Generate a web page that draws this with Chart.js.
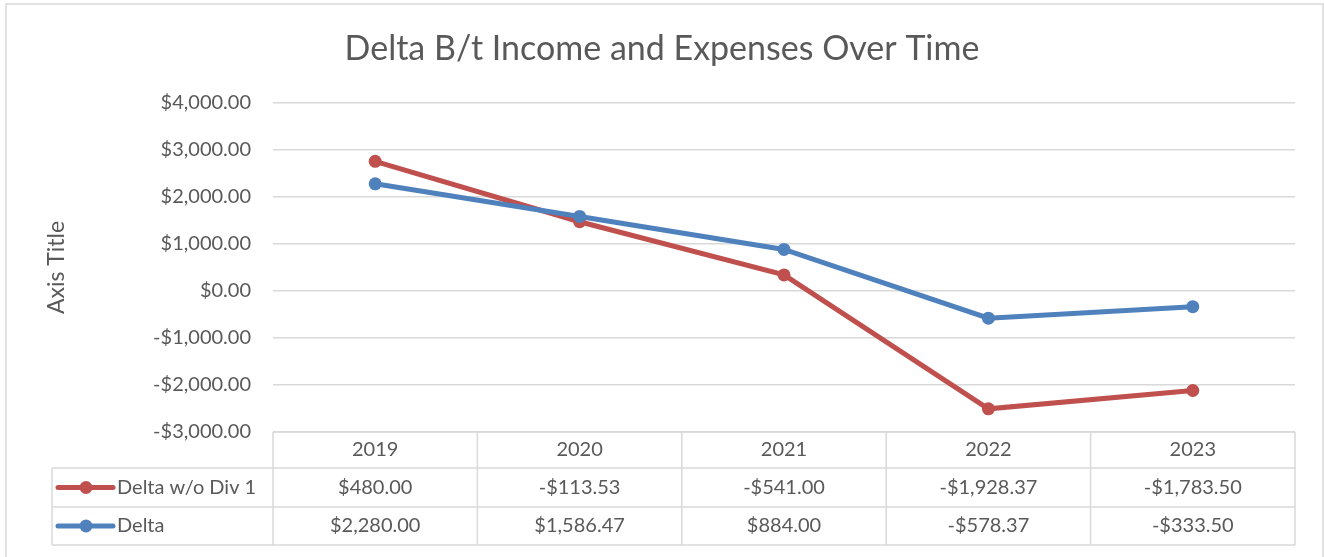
<!DOCTYPE html>
<html>
<head>
<meta charset="utf-8">
<script src="https://cdn.jsdelivr.net/npm/chart.js@4.4.1/dist/chart.umd.min.js"></script>
<style>
  html, body { margin: 0; padding: 0; background: #fff; }
  #wrap { width: 1324px; height: 557px; }
</style>
</head>
<body>
<div id="wrap"><canvas id="chart" width="1324" height="557"></canvas></div>
<script>
const years = ["2019", "2020", "2021", "2022", "2023"];
const deltaWithoutDiv1 = [480, -113.53, -541, -1928.37, -1783.5];
const delta = [2280, 1586.47, 884, -578.37, -333.5];
const yMin = -3000;
const yMax = 4000;
const yStep = 1000;

const RED = "#C0504D";
const BLUE = "#4F81BD";
const TEXT = "#595959";
const GRID = "#d9d9d9";

const money = (v) => {
  const s = Math.abs(v).toLocaleString("en-US", {
    minimumFractionDigits: 2,
    maximumFractionDigits: 2,
  });
  return (v < 0 ? "-$" : "$") + s;
};

Chart.defaults.font.family = "Lato";
Chart.defaults.color = TEXT;

// rows of the data table, in the order the reference shows them
const tableRows = [
  { label: "Delta w/o Div 1", values: deltaWithoutDiv1, color: RED },
  { label: "Delta", values: delta, color: BLUE },
];

const frame = {
  id: "frame",
  beforeDraw(chart) {
    const { ctx } = chart;
    ctx.save();
    ctx.fillStyle = "#fff";
    ctx.fillRect(0, 0, chart.width, chart.height);
    ctx.strokeStyle = GRID;
    ctx.lineWidth = 1.5;
    ctx.strokeRect(6, 4, 1317, 560);
    ctx.restore();
  },
};

const dataTable = {
  id: "dataTable",
  afterDraw(chart) {
    const { ctx, chartArea } = chart;
    const x = chart.scales.x;
    const colW = x.getPixelForValue(1) - x.getPixelForValue(0);
    const left = chartArea.left;
    const right = chartArea.right;
    const top = chartArea.bottom;
    const legendLeft = 52;
    const rowTops = [top, top + 36, top + 75, top + 113];

    ctx.save();
    ctx.strokeStyle = GRID;
    ctx.lineWidth = 1.5;
    ctx.beginPath();
    ctx.moveTo(left, rowTops[0]);
    ctx.lineTo(right, rowTops[0]);
    for (let i = 1; i < rowTops.length; i++) {
      ctx.moveTo(legendLeft, rowTops[i]);
      ctx.lineTo(right, rowTops[i]);
    }
    ctx.moveTo(legendLeft, rowTops[1]);
    ctx.lineTo(legendLeft, rowTops[3]);
    for (let i = 0; i <= years.length; i++) {
      const cx = x.getPixelForValue(0) - colW / 2 + i * colW;
      ctx.moveTo(cx, rowTops[0]);
      ctx.lineTo(cx, rowTops[3]);
    }
    ctx.stroke();

    ctx.fillStyle = TEXT;
    ctx.font = "20px Lato";
    ctx.textBaseline = "middle";
    ctx.textAlign = "center";
    years.forEach((y, i) => {
      ctx.fillText(y, x.getPixelForValue(i), (rowTops[0] + rowTops[1]) / 2);
    });

    tableRows.forEach((row, r) => {
      const cy = (rowTops[r + 1] + rowTops[r + 2]) / 2;
      row.values.forEach((v, i) => {
        ctx.fillStyle = TEXT;
        ctx.textAlign = "center";
        ctx.fillText(money(v), x.getPixelForValue(i), cy);
      });
      // legend key
      ctx.strokeStyle = row.color;
      ctx.lineWidth = 5;
      ctx.lineCap = "round";
      ctx.beginPath();
      ctx.moveTo(58, cy);
      ctx.lineTo(113, cy);
      ctx.stroke();
      ctx.fillStyle = row.color;
      ctx.beginPath();
      ctx.arc(86, cy, 6.5, 0, Math.PI * 2);
      ctx.fill();
      ctx.fillStyle = TEXT;
      ctx.textAlign = "left";
      ctx.fillText(row.label, 117, cy);
    });
    ctx.restore();
  },
};

new Chart(document.getElementById("chart"), {
  type: "line",
  data: {
    labels: years,
    datasets: [
      {
        label: "Delta",
        data: delta,
        borderColor: BLUE,
        backgroundColor: BLUE,
        borderWidth: 5,
        pointRadius: 6.5,
        pointBorderWidth: 0,
        fill: false,
      },
      {
        label: "Delta w/o Div 1",
        data: deltaWithoutDiv1,
        borderColor: RED,
        backgroundColor: RED,
        borderWidth: 5,
        pointRadius: 6.5,
        pointBorderWidth: 0,
        fill: false,
      },
    ],
  },
  options: {
    responsive: false,
    animation: false,
    layout: { padding: { left: 29, right: 29, top: 0, bottom: 125 } },
    plugins: {
      legend: { display: false },
      tooltip: { enabled: false },
      title: {
        display: true,
        text: "Delta B/t Income and Expenses Over Time",
        color: TEXT,
        font: { size: 34, weight: "normal" },
        padding: { top: 28.6, bottom: 33.6 },
      },
    },
    scales: {
      x: {
        display: false,
        offset: true,
      },
      y: {
        stacked: "single",
        min: yMin,
        max: yMax,
        afterFit: (s) => {
          s.width = 244;
        },
        ticks: {
          stepSize: yStep,
          padding: 22,
          color: TEXT,
          font: { size: 20 },
          callback: (v) => money(v),
        },
        grid: { color: GRID, lineWidth: 1.5, drawTicks: false },
        border: { display: false },
        title: {
          display: true,
          text: "Axis Title",
          color: TEXT,
          font: { size: 23 },
          padding: { top: 14, bottom: 0 },
        },
      },
    },
  },
  plugins: [frame, dataTable],
});
</script>
</body>
</html>
